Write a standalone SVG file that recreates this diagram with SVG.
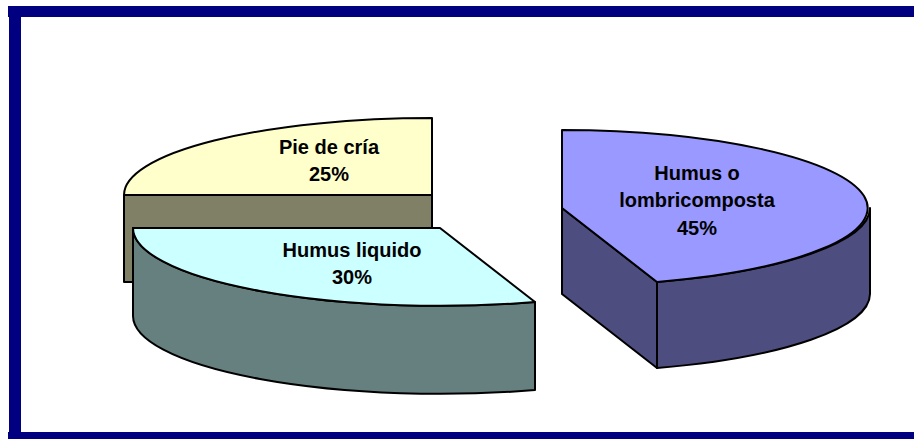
<svg xmlns="http://www.w3.org/2000/svg" width="914" height="439" viewBox="0 0 914 439">
  <style>
    .edge { stroke: #000000; stroke-width: 2; stroke-linejoin: round; }
    .lbl { font-family: "Liberation Sans", Arial, sans-serif; font-weight: bold; font-size: 20px; fill: #000000; text-anchor: middle; }
    .frame { fill: #000080; }
  </style>
  <rect x="0" y="0" width="914" height="439" fill="#FFFFFF"/>
  <g id="frame">
    <rect class="frame" x="8" y="6" width="906" height="11"/>
    <rect class="frame" x="9" y="17" width="12" height="415"/>
    <rect class="frame" x="8" y="432" width="906" height="7"/>
  </g>
  <g id="pie-de-cria">
    <rect class="edge" x="124" y="195" width="308" height="87" fill="#808066"/>
    <path class="edge" d="M432,195 L124,195 A308 77 0 0 1 432,118 Z" fill="#FFFFCC"/>
    <text class="lbl" x="329" y="154">Pie de cría</text>
    <text class="lbl" x="329" y="181">25%</text>
  </g>
  <g id="humus-liquido">
    <path class="edge" d="M133,228 A307 78 0 0 0 535,302 L535,390 A307 78 0 0 1 133,316 Z" fill="#668080"/>
    <path class="edge" d="M440,228 L133,228 A307 78 0 0 0 535,302 Z" fill="#CCFFFF"/>
    <text class="lbl" x="352" y="257">Humus liquido</text>
    <text class="lbl" x="352" y="284">30%</text>
  </g>
  <g id="humus-lombricomposta">
    <path class="edge" d="M562,208 L657,282 L657,368 L562,294 Z" fill="#4D4D80"/>
    <path class="edge" d="M657,282 A308 78 0 0 0 870,208 L870,294 A308 78 0 0 1 657,368 Z" fill="#4D4D80"/>
    <path class="edge" d="M562,208 L562,130 A308 78 0 0 1 657,282 Z" fill="#9999FF"/>
    <text class="lbl" x="697" y="180">Humus o</text>
    <text class="lbl" x="697" y="207">lombricomposta</text>
    <text class="lbl" x="697" y="235">45%</text>
  </g>
  <g id="connectors"/>
</svg>
